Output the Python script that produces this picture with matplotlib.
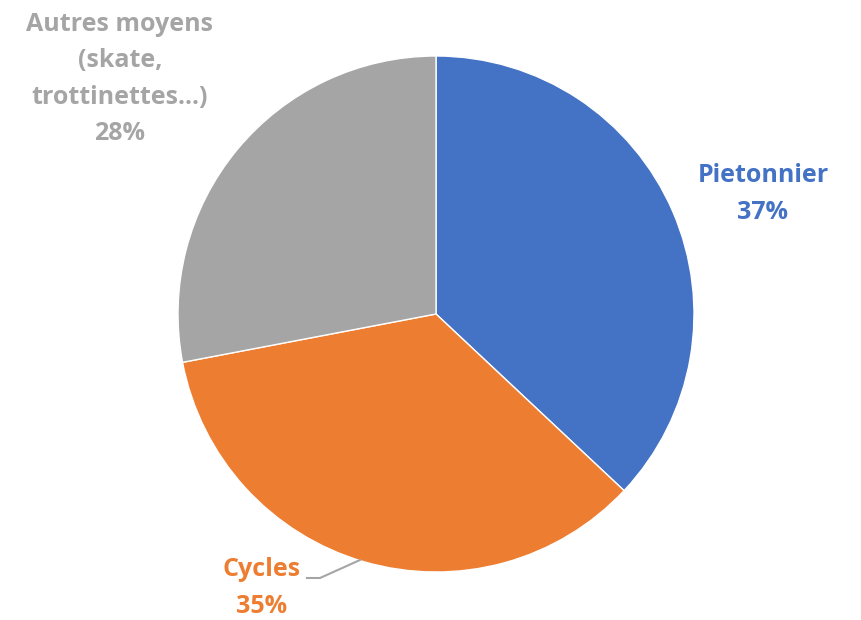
import matplotlib.pyplot as plt

categories = ['Pietonnier', 'Cycles', 'Autres moyens\n(skate,\ntrottinettes...)']
shares = [37, 35, 28]
colors = ['#4472C4', '#ED7D31', '#A5A5A5']

# label anchor points (pixels from top-left of the figure)
label_pos = [(763, 194), (262, 588), (120, 79)]

W, H = 861, 620
fig = plt.figure(figsize=(W / 100, H / 100), dpi=100)
ax = fig.add_axes([0, 0, 1, 1])

ax.pie(shares, colors=colors, startangle=90, counterclock=False,
       center=(436, H - 314), radius=258,
       wedgeprops=dict(edgecolor='white', linewidth=1))
ax.set_xlim(0, W)
ax.set_ylim(0, H)
ax.set_aspect('equal')
ax.axis('off')

for name, pct, col, (x, y) in zip(categories, shares, colors, label_pos):
    ax.text(x, H - y, '{}\n{}%'.format(name, pct), color=col, ha='center', va='center',
            fontsize=18, fontweight='bold', family='Open Sans', linespacing=1.6)

# leader line for Cycles
ax.plot([307, 320, 360], [H - 578, H - 578, H - 560], color='#A5A5A5', lw=1.5)

fig.savefig('out.png', dpi=100, facecolor='white')
